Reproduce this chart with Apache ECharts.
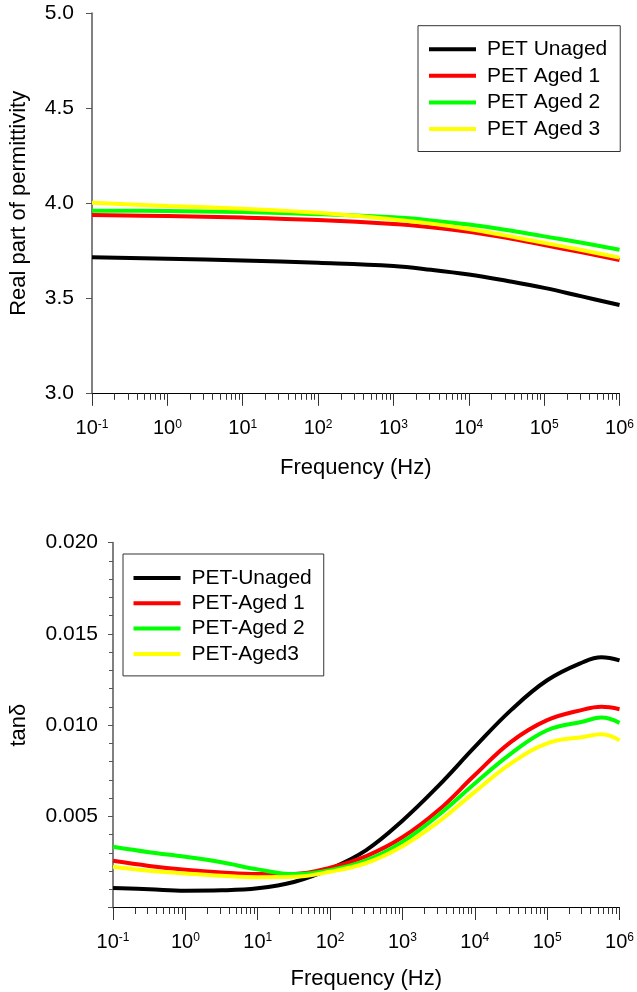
<!DOCTYPE html>
<html>
<head>
<meta charset="utf-8">
<script src="https://cdn.jsdelivr.net/npm/echarts@6/dist/echarts.min.js"></script>
<style>
html,body{margin:0;padding:0;background:#fff;}
#chart{width:637px;height:992px;}
</style>
</head>
<body>
<div id="chart"></div>
<script>
// ---- Data ----
const freqTop = [0.1, 1, 10, 100, 1000, 3162, 10000, 31623, 100000, 316228, 1000000];
const topNames = ['PET Unaged', 'PET Aged 1', 'PET Aged 2', 'PET Aged 3'];
const topUnaged = [3.716, 3.708, 3.699, 3.687, 3.670, 3.650, 3.625, 3.592, 3.555, 3.510, 3.465];
const topAged1  = [3.938, 3.933, 3.925, 3.912, 3.891, 3.874, 3.850, 3.818, 3.780, 3.742, 3.702];
const topAged2  = [3.961, 3.960, 3.954, 3.943, 3.926, 3.910, 3.888, 3.860, 3.826, 3.792, 3.756];
const topAged3  = [4.003, 3.986, 3.971, 3.950, 3.915, 3.893, 3.865, 3.830, 3.792, 3.754, 3.714];

const freqBottom = [0.1, 0.316, 1, 3.16, 10, 31.6, 100, 316, 1000, 3162, 10000, 31623, 100000, 316228, 562341, 1000000];
const bottomNames = ['PET-Unaged', 'PET-Aged 1', 'PET-Aged 2', 'PET-Aged3'];
const botUnaged = [0.00107, 0.00100, 0.00092, 0.00094, 0.00105, 0.00140, 0.00212, 0.00315, 0.00476, 0.00668, 0.00880, 0.01082, 0.01246, 0.01346, 0.01372, 0.01355];
const botAged1  = [0.00256, 0.00228, 0.00207, 0.00192, 0.00183, 0.00184, 0.00218, 0.00282, 0.00385, 0.00534, 0.00726, 0.00908, 0.01027, 0.01085, 0.01100, 0.01087];
const botAged2  = [0.00333, 0.00303, 0.00278, 0.00248, 0.00209, 0.00183, 0.00205, 0.00258, 0.00360, 0.00507, 0.00680, 0.00844, 0.00972, 0.01020, 0.01041, 0.01012];
const botAged3  = [0.00224, 0.00202, 0.00187, 0.00174, 0.00166, 0.00168, 0.00196, 0.00244, 0.00336, 0.00470, 0.00634, 0.00790, 0.00900, 0.00935, 0.00950, 0.00917];

const decades = [0.1, 1, 10, 100, 1000, 10000, 100000, 1000000];
const colors = ['#000000', '#ff0000', '#00ff00', '#ffff00'];
const xTitle = 'Frequency (Hz)';
const yTitleTop = 'Real part of permittivity';
const yTitleBottom = 'tanδ';

// minor tick positions (2..9 within each decade)
const minorTicks = [];
for (let d = 0; d < decades.length - 1; d++) {
  for (let m = 2; m <= 9; m++) minorTicks.push(+(decades[d] * m).toPrecision(6));
}

const FONT = 'Liberation Sans, Arial, sans-serif';

function pairs(xs, ys) { return xs.map((x, i) => [x, ys[i]]); }

function supLabel(v) {
  const e = Math.round(Math.log10(v));
  return '{b|10}{s|' + e + '}';
}

function xAxesFor(gridIndex, nameGap, labelMargin) {
  return [
    {
      gridIndex, type: 'log', logBase: 10, min: 0.1, max: 1000000,
      name: xTitle, nameLocation: 'middle', nameGap,
      nameTextStyle: {fontSize: 22, fontFamily: FONT, color: '#000'},
      axisLine: {show: true, lineStyle: {color: '#000', width: 1}},
      axisTick: {show: true, inside: false, length: 12.5, customValues: decades, lineStyle: {color: '#333', width: 1}},
      axisLabel: {show: true, customValues: decades, margin: labelMargin, formatter: supLabel,
        rich: {
          b: {fontSize: 20, fontFamily: FONT, color: '#000'},
          s: {fontSize: 12, fontFamily: FONT, color: '#000', padding: [0, 0, 9, 0]}
        }},
      splitLine: {show: false}, minorTick: {show: false}, minorSplitLine: {show: false}
    },
    {
      gridIndex, type: 'log', logBase: 10, min: 0.1, max: 1000000, position: 'bottom',
      axisLine: {show: false},
      axisTick: {show: true, inside: false, length: 6.5, customValues: minorTicks, lineStyle: {color: '#333', width: 1}},
      axisLabel: {show: false},
      splitLine: {show: false}
    }
  ];
}

function legendFor(names, left, top, padding, itemGap) {
  return {
    orient: 'vertical', left, top, padding, itemGap,
    data: names, icon: 'rect', itemWidth: 47, itemHeight: 4,
    borderColor: '#333', borderWidth: 1, backgroundColor: '#fff',
    textStyle: {fontSize: 21, fontFamily: FONT, color: '#000', lineHeight: 21, padding: [0, 0, 0, 6]},
    selectedMode: false
  };
}

function lineSeries(name, xIdx, yIdx, data, color) {
  return {
    name, type: 'line', xAxisIndex: xIdx, yAxisIndex: yIdx, data,
    smooth: 0.4, showSymbol: false, symbol: 'none', color,
    lineStyle: {width: 4, color}, itemStyle: {color}, z: 3
  };
}

const chart = echarts.init(document.getElementById('chart'), null, {renderer: 'canvas'});
const option = {
  backgroundColor: '#fff',
  animation: false,
  grid: [
    {left: 92, right: 16.3, top: 13.3, height: 380, containLabel: false},
    {left: 113, right: 15, top: 542.7, height: 364.8, containLabel: false}
  ],
  legend: [
    legendFor(topNames, 418, 25.7, [13, 13, 12, 11], 5.6),
    legendFor(bottomNames, 123, 554, [13.5, 12, 11.5, 10.5], 4.3)
  ],
  xAxis: [...xAxesFor(0, 64, 25), ...xAxesFor(1, 60, 24)],
  yAxis: [
    {
      gridIndex: 0, type: 'value', min: 3, max: 5, interval: 0.5,
      name: yTitleTop, nameLocation: 'middle', nameGap: 62, nameRotate: 90,
      nameTextStyle: {fontSize: 22, fontFamily: FONT, color: '#000'},
      axisLine: {show: true, lineStyle: {color: '#808080', width: 2}},
      axisTick: {show: true, inside: false, length: 6, lineStyle: {color: '#555'}},
      axisLabel: {fontSize: 21, fontFamily: FONT, color: '#000', margin: 18, formatter: v => v.toFixed(1)},
      splitLine: {show: false}
    },
    {
      gridIndex: 1, type: 'value', min: 0, max: 0.02, interval: 0.005,
      name: yTitleBottom, nameLocation: 'middle', nameGap: 83, nameRotate: 90,
      nameTextStyle: {fontSize: 22, fontFamily: FONT, color: '#000'},
      axisLine: {show: true, lineStyle: {color: '#808080', width: 2}},
      axisTick: {show: true, inside: false, length: 5, lineStyle: {color: '#555'}},
      minorTick: {show: true, splitNumber: 5, length: 4, lineStyle: {color: '#555'}},
      axisLabel: {fontSize: 21, fontFamily: FONT, color: '#000', margin: 15,
        formatter: v => (Math.abs(v) < 1e-9 ? '' : v.toFixed(3))},
      splitLine: {show: false}
    }
  ],
  series: [
    lineSeries(topNames[0], 0, 0, pairs(freqTop, topUnaged), colors[0]),
    lineSeries(topNames[1], 0, 0, pairs(freqTop, topAged1), colors[1]),
    lineSeries(topNames[2], 0, 0, pairs(freqTop, topAged2), colors[2]),
    lineSeries(topNames[3], 0, 0, pairs(freqTop, topAged3), colors[3]),
    lineSeries(bottomNames[0], 2, 1, pairs(freqBottom, botUnaged), colors[0]),
    lineSeries(bottomNames[1], 2, 1, pairs(freqBottom, botAged1), colors[1]),
    lineSeries(bottomNames[2], 2, 1, pairs(freqBottom, botAged2), colors[2]),
    lineSeries(bottomNames[3], 2, 1, pairs(freqBottom, botAged3), colors[3])
  ]
};
chart.setOption(option);
</script>
</body>
</html>
